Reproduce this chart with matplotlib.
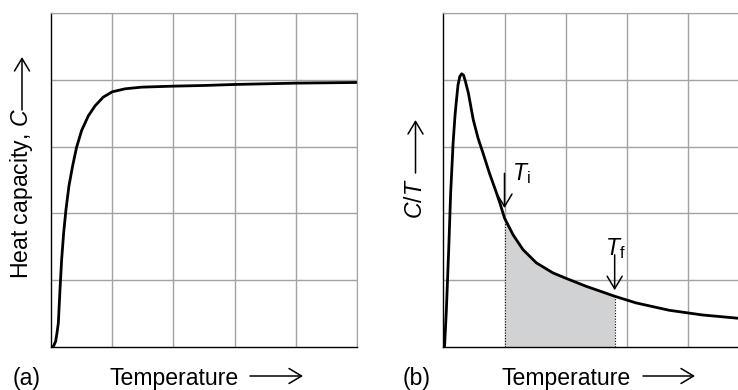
import numpy as np
import matplotlib
matplotlib.use("Agg")
import matplotlib.pyplot as plt

plt.rcParams['font.family'] = ['Liberation Sans', 'DejaVu Sans']
plt.rcParams['mathtext.fontset'] = 'custom'
plt.rcParams['mathtext.rm'] = 'Liberation Sans'
plt.rcParams['mathtext.it'] = 'Liberation Sans:italic'

# ---- data (grid units) ----
heat_T = [0, 0.04, 0.076, 0.098, 0.12, 0.147, 0.174, 0.207, 0.245, 0.293,
          0.353, 0.418, 0.5, 0.61, 0.72, 0.853, 1.0, 1.21, 1.48, 2.0, 2.5,
          3.0, 4.0, 5.0]
heat_C = [0, 0.01, 0.085, 0.21, 0.36, 0.86, 1.31, 1.71, 2.06, 2.41, 2.71,
          2.99, 3.24, 3.46, 3.61, 3.74, 3.82, 3.865, 3.89, 3.905, 3.915,
          3.93, 3.95, 3.96]

ct_T = [0, 0.02, 0.05, 0.09, 0.12, 0.16, 0.19, 0.21, 0.24, 0.27, 0.30,
        0.33, 0.36, 0.41, 0.45, 0.49, 0.57, 0.65, 0.755, 0.86, 0.93, 1.0,
        1.14, 1.30, 1.52, 1.79, 2.0, 2.33, 2.55, 2.8, 3.15, 3.69, 4.23,
        4.82]
ct_C = [0, 0, 0.55, 1.5, 2.3, 3.05, 3.45, 3.65, 3.92, 4.05, 4.09, 4.07,
        3.98, 3.8, 3.6, 3.4, 3.12, 2.9, 2.6, 2.33, 2.14, 1.93, 1.68, 1.46,
        1.26, 1.11, 1.03, 0.91, 0.84, 0.76, 0.66, 0.55, 0.48, 0.43]

T_i = 1.0
T_f = 2.8

W, H = 738, 390
GRID = '#a3a3a3'
FILL = '#d1d2d4'
FS = 16.6


def fx(x):
    return x / W


def fy(y):
    return 1 - y / H


fig = plt.figure(figsize=(W / 100, H / 100), dpi=100)

ax1 = fig.add_axes([fx(51), fy(347), (357 - 51) / W, (347 - 13) / H])
ax2 = fig.add_axes([fx(443.3), fy(347), (W - 443.3) / W, (347 - 13) / H])

for ax, xmax in ((ax1, 5), (ax2, (W - 443.3) / 61.2)):
    ax.set_xticks([1, 2, 3, 4, 5])
    ax.set_yticks([1, 2, 3, 4, 5])
    ax.set_xlim(0, xmax)
    ax.set_ylim(0, 5)
    ax.tick_params(length=0, labelbottom=False, labelleft=False)
    ax.grid(True, color=GRID, lw=1.0)
    ax.set_axisbelow(True)
    ax.spines['left'].set_color('black')
    ax.spines['bottom'].set_color('black')
    ax.spines['left'].set_linewidth(1.0)
    ax.spines['bottom'].set_linewidth(1.0)
    ax.spines['top'].set_color(GRID)
    ax.spines['right'].set_color(GRID)
ax2.spines['right'].set_visible(False)

ax1.plot(heat_T, heat_C, color='black', lw=2.0, solid_joinstyle='round')

ctx = np.array(ct_T)
cty = np.array(ct_C)
ax2.fill_between(ctx, 0, cty, where=(ctx >= T_i) & (ctx <= T_f),
                 color=FILL, lw=0, zorder=1.5)
ax2.plot(ct_T, ct_C, color='black', lw=2.0, zorder=3,
         solid_joinstyle='round')
for t in (T_i, T_f):
    ax2.plot([t, t], [0, cty[ctx == t][0]], color='black', lw=0.8,
             ls=(0, (1, 1.5)), zorder=2.5)

arrow = dict(arrowstyle='->,head_length=0.45,head_width=0.27',
             color='black', lw=1.1, mutation_scale=20, shrinkA=0, shrinkB=0)
ax2.annotate('', xy=(T_i, 2.08), xytext=(T_i, 2.6), arrowprops=arrow)
ax2.annotate('', xy=(T_f, 0.85), xytext=(T_f, 1.38), arrowprops=arrow)
ax2.text(1.12, 2.5, r'$T_{\mathrm{i}}$', fontsize=FS, ha='left',
         va='baseline')
ax2.text(2.64, 1.38, r'$T_{\mathrm{f}}$', fontsize=FS, ha='left',
         va='baseline')


def fig_arrow(x0, y0, x1, y1):
    ax1.annotate('', xy=(fx(x1), fy(y1)), xytext=(fx(x0), fy(y0)),
                 xycoords='figure fraction', textcoords='figure fraction',
                 arrowprops=arrow, annotation_clip=False)


# axis labels with long arrows
fig.text(fx(22), fy(194), r'Heat capacity, $C$', rotation=90, fontsize=FS,
         ha='center', va='center')
fig_arrow(22, 110, 22, 57)
fig.text(fx(415), fy(199), r'$C/T$', rotation=90, fontsize=FS,
         ha='center', va='center')
fig_arrow(415.5, 173, 415.5, 120)

for lab, x0, tx, a0, a1 in (('(a)', 13, 110, 250, 303),
                            ('(b)', 403, 502, 643, 695)):
    fig.text(fx(x0), fy(385), lab, fontsize=FS, ha='left', va='baseline')
    fig.text(fx(tx), fy(385), 'Temperature', fontsize=FS, ha='left',
             va='baseline')
    fig_arrow(a0, 376, a1, 376)

fig.savefig('out.png', dpi=100)
